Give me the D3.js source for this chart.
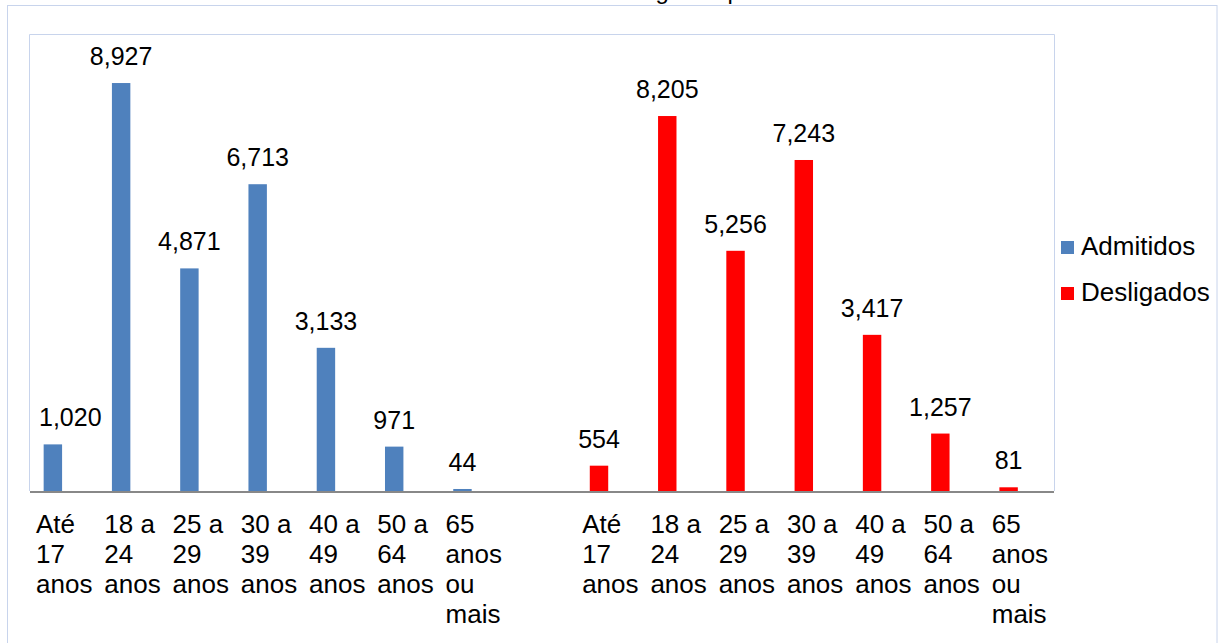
<!DOCTYPE html>
<html>
<head>
<meta charset="utf-8">
<script src="https://cdn.jsdelivr.net/npm/d3@7"></script>
<style>
  body { margin: 0; background: #fff; }
  text { font-family: "Liberation Sans", Arial, sans-serif; fill: #000; }
</style>
</head>
<body>
<figure id="bar" style="margin:0"></figure>
<script>
// chart data
const categories = [
  ["Até", "17", "anos"],
  ["18 a", "24", "anos"],
  ["25 a", "29", "anos"],
  ["30 a", "39", "anos"],
  ["40 a", "49", "anos"],
  ["50 a", "64", "anos"],
  ["65", "anos", "ou", "mais"]
];
const seriesNames = ["Admitidos", "Desligados"];
const admitidos = [1020, 8927, 4871, 6713, 3133, 971, 44];
const desligados = [554, 8205, 5256, 7243, 3417, 1257, 81];
const colors = ["#4f81bd", "#ff0000"];
const title = "Admitidos e Desligados por faixa etária";

const width = 1223, height = 643;
const plot = { left: 30, right: 1054, top: 34, bottom: 491 };
const frameColor = "#c8d4ec";

const svg = d3.select("figure#bar")
  .append("svg")
  .attr("width", width)
  .attr("height", height);

// outer chart frame + title (mostly cropped off the top)
svg.append("rect")
  .attr("x", 7.5).attr("y", 5.5)
  .attr("width", 1209.5).attr("height", 700)
  .attr("fill", "none").attr("stroke", frameColor);

svg.append("text")
  .attr("x", 470).attr("y", -1)
  .style("font-size", "24px")
  .text(title);

// one row of slots: group 1, a blank slot, group 2
const rows = [];
admitidos.forEach((v, i) => rows.push({ key: "A" + i, cat: categories[i], value: v, s: 0 }));
rows.push({ key: "gap", cat: null, value: null, s: null });
desligados.forEach((v, i) => rows.push({ key: "D" + i, cat: categories[i], value: v, s: 1 }));

const x = d3.scaleBand()
  .domain(rows.map(d => d.key))
  .range([plot.left, plot.right]);

const y = d3.scaleLinear()
  .domain([0, 10000])
  .range([plot.bottom, plot.top]);

// plot area frame (top, left, right)
svg.append("path")
  .attr("d", `M${plot.left - 0.5},${plot.bottom}V${plot.top + 0.5}H${plot.right + 0.5}V${plot.bottom}`)
  .attr("fill", "none").attr("stroke", frameColor);

const data = rows.filter(d => d.value !== null);
const barOff = x.bandwidth() * 0.2, barW = x.bandwidth() * 0.27;

svg.selectAll("rect.bar")
  .data(data)
  .enter()
  .append("rect")
  .attr("class", "bar")
  .attr("x", d => x(d.key) + barOff)
  .attr("y", d => y(d.value))
  .attr("width", barW)
  .attr("height", d => plot.bottom - y(d.value))
  .attr("fill", d => colors[d.s]);

// value labels, pushed right if they would hang over the plot's left edge
svg.selectAll("text.val")
  .data(data)
  .enter()
  .append("text")
  .attr("class", "val")
  .attr("y", d => y(d.value) - 18)
  .attr("text-anchor", "middle")
  .style("font-size", "25px")
  .text(d => d3.format(",")(d.value))
  .attr("x", function(d) {
    const cx = x(d.key) + barOff + barW / 2;
    const w = this.getComputedTextLength();
    return Math.max(cx, plot.left + 9 + w / 2);
  });

// x axis line
svg.append("line")
  .attr("x1", plot.left).attr("x2", plot.right)
  .attr("y1", plot.bottom + 1).attr("y2", plot.bottom + 1)
  .attr("stroke", "#888").attr("stroke-width", 2);

// wrapped category labels
const ticks = svg.selectAll("text.cat")
  .data(data)
  .enter()
  .append("text")
  .attr("class", "cat")
  .style("font-size", "26px");

ticks.selectAll("tspan")
  .data(d => d.cat.map(line => ({ line, x0: x(d.key) + 6 })))
  .enter()
  .append("tspan")
  .attr("x", d => d.x0)
  .attr("y", (d, i) => 533 + i * 30)
  .text(d => d.line);

// legend
const legend = svg.append("g")
  .selectAll("g")
  .data(seriesNames)
  .enter()
  .append("g")
  .attr("transform", (d, i) => `translate(1061,${241 + i * 46})`);

legend.append("rect")
  .attr("width", 13).attr("height", 13)
  .attr("fill", (d, i) => colors[i]);

legend.append("text")
  .attr("x", 20).attr("y", 14)
  .style("font-size", "26px")
  .text(d => d);
</script>
</body>
</html>
